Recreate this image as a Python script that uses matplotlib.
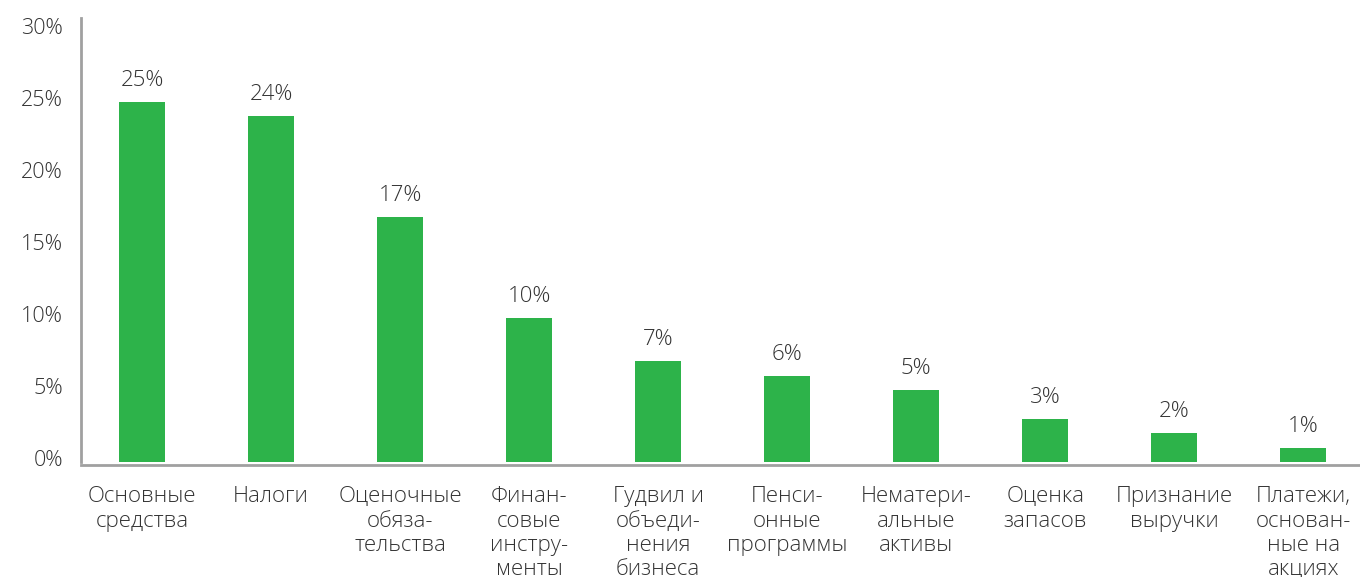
import matplotlib.pyplot as plt
import matplotlib.transforms as mtransforms

# Share of companies by accounting area, %
categories = [
    "Основные\nсредства",
    "Налоги",
    "Оценочные\nобяза-\nтельства",
    "Финан-\nсовые\nинстру-\nменты",
    "Гудвил и\nобъеди-\nнения\nбизнеса",
    "Пенси-\nонные\nпрограммы",
    "Нематери-\nальные\nактивы",
    "Оценка\nзапасов",
    "Признание\nвыручки",
    "Платежи,\nоснован-\nные на\nакциях",
]
values = [25, 24, 17, 10, 7, 6, 5, 3, 2, 1]
y_ticks = [0, 5, 10, 15, 20, 25, 30]

BAR_COLOR = "#2db34a"
TEXT_COLOR = "#333333"
AXIS_COLOR = "#a0a0a0"

plt.rcParams["font.family"] = ["Open Sans", "DejaVu Sans"]
plt.rcParams["font.weight"] = "light"

fig = plt.figure(figsize=(13.6, 5.77), dpi=100)
ax = fig.add_axes([81 / 1360, 115 / 577, 1 - 81 / 1360, 444 / 577])

x = list(range(len(categories)))
ax.bar(x, values, width=0.357, color=BAR_COLOR, zorder=2)

for xi, v in zip(x, values):
    ax.annotate(f"{v}%", (xi, v), xytext=(0, 11.5), textcoords="offset points",
                ha="center", va="baseline", fontsize=16, color=TEXT_COLOR)

ax.set_xlim(-0.473, 9.44)
ax.set_ylim(0, 30.83)

ax.set_yticks(y_ticks)
ax.set_yticklabels([f"{t}%" for t in y_ticks])
ax.set_xticks(x)
ax.set_xticklabels(categories, linespacing=0.96)

ax.tick_params(axis="y", length=0, pad=13, labelsize=15.5, labelcolor=TEXT_COLOR)
ax.tick_params(axis="x", length=0, pad=15.5, labelsize=16, labelcolor=TEXT_COLOR)
ax.get_xticklabels()[1].set_color("#111111")
ax.get_xticklabels()[1].set_fontweight("normal")

# nudge y labels up a little
shift = mtransforms.ScaledTranslation(0, 4 / 100, fig.dpi_scale_trans)
for lbl in ax.get_yticklabels():
    lbl.set_transform(lbl.get_transform() + shift)

for side in ["top", "right"]:
    ax.spines[side].set_visible(False)
ax.spines["left"].set_color(AXIS_COLOR)
ax.spines["left"].set_linewidth(2)
ax.spines["bottom"].set_color(AXIS_COLOR)
ax.spines["bottom"].set_linewidth(2)
ax.spines["bottom"].set_position(("outward", 2))
ax.spines["bottom"].set_zorder(3)

fig.savefig("out.png", dpi=100)
